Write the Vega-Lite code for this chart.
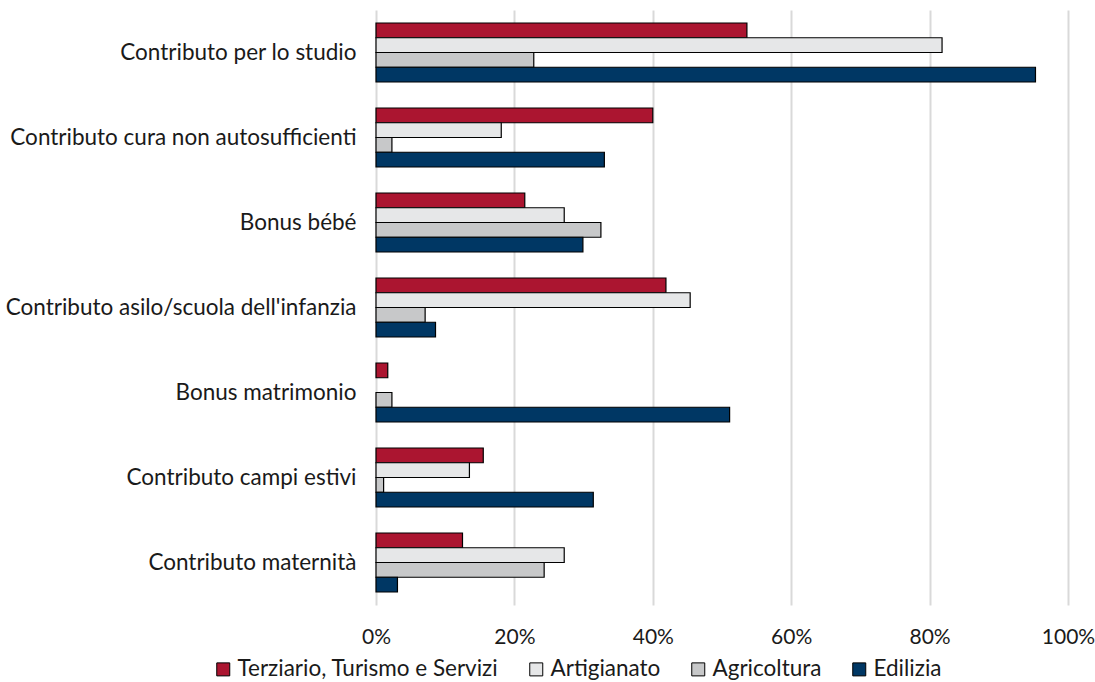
{
  "$schema": "https://vega.github.io/schema/vega-lite/v6.json",
  "width": 692,
  "height": 595,
  "autosize": {"type": "none"},
  "padding": {"left": 376, "top": 10, "right": 27, "bottom": 77},
  "background": "white",
  "config": {"font": "Lato", "view": {"stroke": null}},
  "data": {
    "values": [
      {"categoria": "Contributo per lo studio", "settore": "Terziario, Turismo e Servizi", "valore": 0.536},
      {"categoria": "Contributo per lo studio", "settore": "Artigianato", "valore": 0.818},
      {"categoria": "Contributo per lo studio", "settore": "Agricoltura", "valore": 0.228},
      {"categoria": "Contributo per lo studio", "settore": "Edilizia", "valore": 0.953},
      {"categoria": "Contributo cura non autosufficienti", "settore": "Terziario, Turismo e Servizi", "valore": 0.400},
      {"categoria": "Contributo cura non autosufficienti", "settore": "Artigianato", "valore": 0.181},
      {"categoria": "Contributo cura non autosufficienti", "settore": "Agricoltura", "valore": 0.023},
      {"categoria": "Contributo cura non autosufficienti", "settore": "Edilizia", "valore": 0.330},
      {"categoria": "Bonus bébé", "settore": "Terziario, Turismo e Servizi", "valore": 0.215},
      {"categoria": "Bonus bébé", "settore": "Artigianato", "valore": 0.272},
      {"categoria": "Bonus bébé", "settore": "Agricoltura", "valore": 0.325},
      {"categoria": "Bonus bébé", "settore": "Edilizia", "valore": 0.299},
      {"categoria": "Contributo asilo/scuola dell'infanzia", "settore": "Terziario, Turismo e Servizi", "valore": 0.419},
      {"categoria": "Contributo asilo/scuola dell'infanzia", "settore": "Artigianato", "valore": 0.454},
      {"categoria": "Contributo asilo/scuola dell'infanzia", "settore": "Agricoltura", "valore": 0.071},
      {"categoria": "Contributo asilo/scuola dell'infanzia", "settore": "Edilizia", "valore": 0.086},
      {"categoria": "Bonus matrimonio", "settore": "Terziario, Turismo e Servizi", "valore": 0.017},
      {"categoria": "Bonus matrimonio", "settore": "Artigianato", "valore": 0},
      {"categoria": "Bonus matrimonio", "settore": "Agricoltura", "valore": 0.023},
      {"categoria": "Bonus matrimonio", "settore": "Edilizia", "valore": 0.511},
      {"categoria": "Contributo campi estivi", "settore": "Terziario, Turismo e Servizi", "valore": 0.155},
      {"categoria": "Contributo campi estivi", "settore": "Artigianato", "valore": 0.135},
      {"categoria": "Contributo campi estivi", "settore": "Agricoltura", "valore": 0.011},
      {"categoria": "Contributo campi estivi", "settore": "Edilizia", "valore": 0.314},
      {"categoria": "Contributo maternità", "settore": "Terziario, Turismo e Servizi", "valore": 0.125},
      {"categoria": "Contributo maternità", "settore": "Artigianato", "valore": 0.272},
      {"categoria": "Contributo maternità", "settore": "Agricoltura", "valore": 0.243},
      {"categoria": "Contributo maternità", "settore": "Edilizia", "valore": 0.031}
    ]
  },
  "transform": [{"filter": "datum.valore > 0"}],
  "mark": {"type": "bar", "stroke": "#000000", "strokeWidth": 1.2},
  "encoding": {
    "y": {
      "field": "categoria",
      "type": "nominal",
      "sort": ["Contributo per lo studio", "Contributo cura non autosufficienti", "Bonus bébé", "Contributo asilo/scuola dell'infanzia", "Bonus matrimonio", "Contributo campi estivi", "Contributo maternità"],
      "scale": {"paddingInner": 0.306, "paddingOuter": 0.153},
      "axis": {"title": null, "ticks": false, "domain": false, "labelPadding": 20, "labelFontSize": 22.5, "labelFont": "Lato", "labelColor": "#1a1a1a", "labelLimit": 400}
    },
    "yOffset": {
      "field": "settore",
      "type": "nominal",
      "sort": ["Terziario, Turismo e Servizi", "Artigianato", "Agricoltura", "Edilizia"],
      "scale": {"domain": ["Terziario, Turismo e Servizi", "Artigianato", "Agricoltura", "Edilizia"], "paddingInner": 0, "paddingOuter": 0}
    },
    "x": {
      "field": "valore",
      "type": "quantitative",
      "scale": {"domain": [0, 1]},
      "axis": {"title": null, "format": ".0%", "values": [0, 0.2, 0.4, 0.6, 0.8, 1], "domain": false, "ticks": false, "grid": true, "gridColor": "#D9D9D9", "gridWidth": 2, "labelFlush": false, "labelPadding": 21, "labelFontSize": 21, "labelFont": "Lato", "labelColor": "#1a1a1a"}
    },
    "color": {
      "field": "settore",
      "type": "nominal",
      "sort": ["Terziario, Turismo e Servizi", "Artigianato", "Agricoltura", "Edilizia"],
      "scale": {"domain": ["Terziario, Turismo e Servizi", "Artigianato", "Agricoltura", "Edilizia"], "range": ["#AB1530", "#E6E7E8", "#C7C8C9", "#003764"]},
      "legend": {"orient": "none", "legendX": -164, "legendY": 648, "direction": "horizontal", "title": null, "symbolType": "square", "symbolSize": 169, "symbolStrokeColor": "#000000", "symbolStrokeWidth": 1, "symbolOpacity": 1, "labelFontSize": 22.5, "labelFont": "Lato", "labelColor": "#1a1a1a", "labelOffset": 3, "labelLimit": 500, "columnPadding": 26}
    }
  }
}
